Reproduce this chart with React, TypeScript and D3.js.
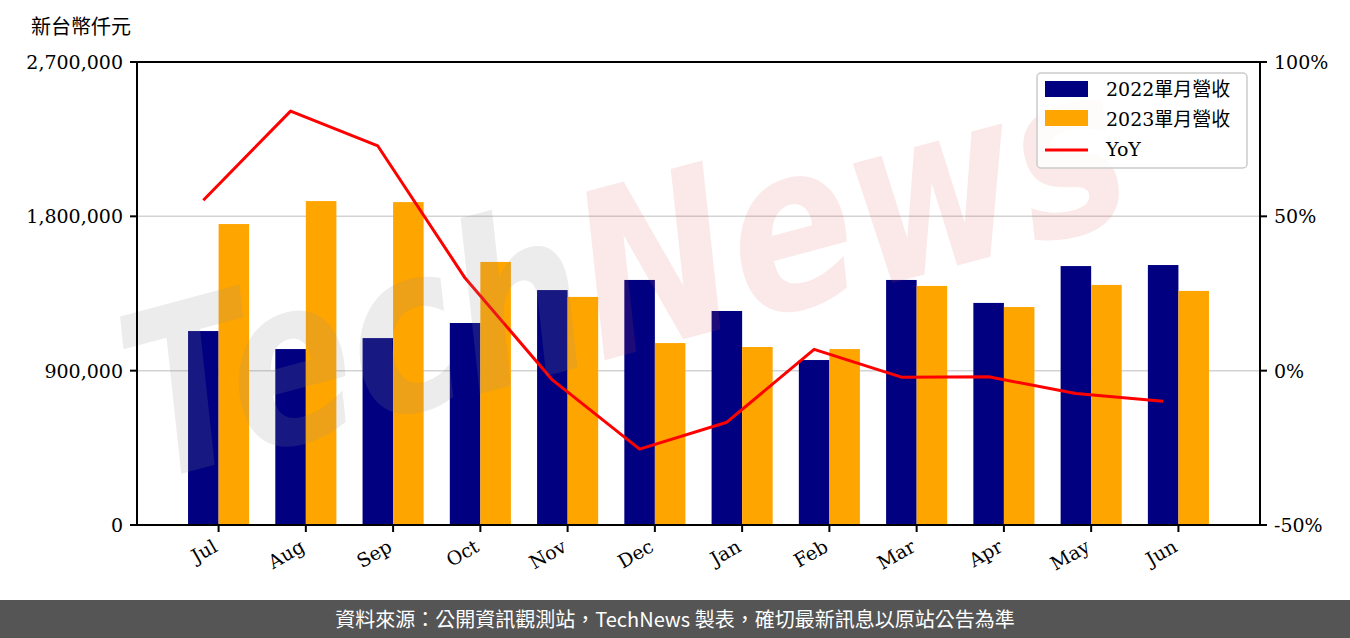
import React from "react";
import * as d3 from "d3";

const months = ["Jul", "Aug", "Sep", "Oct", "Nov", "Dec", "Jan", "Feb", "Mar", "Apr", "May", "Jun"];
const rev2022 = [1131000, 1026000, 1090000, 1178000, 1370000, 1429000, 1248000, 962000, 1429000, 1295000, 1510000, 1516000];
const rev2023 = [1755000, 1889000, 1883000, 1534000, 1330000, 1061000, 1038000, 1026000, 1394000, 1271000, 1400000, 1365000];
const yoy = [55.2, 84.1, 72.8, 30.0, -3.0, -25.4, -16.7, 6.9, -2.1, -2.0, -7.4, -9.9];
const leftTicks = [0, 900000, 1800000, 2700000];
const rightTicks = [-50, 0, 50, 100];
const legendLabels = ["2022單月營收", "2023單月營收", "YoY"];

const W = 1350, H = 638;
const L = 137, R = 1260, T = 62, B = 525;
const serif = "'DejaVu Serif', serif";
const cjk = "'Noto Sans CJK TC', 'Noto Sans CJK SC', sans-serif";

export default function App() {
  const x = d3.scaleLinear().domain([-0.935, 11.935]).range([L, R]);
  const y = d3.scaleLinear().domain([0, 2700000]).range([B, T]);
  const y2 = d3.scaleLinear().domain([-50, 100]).range([B, T]);
  const bw = 0.35;
  const line = d3.line<number>().x((_, i) => x(i - bw / 2)).y((d) => y2(d));
  const fmt = d3.format(",");

  return (
    <div style={{ position: "absolute", left: 0, top: 0 }}>
      <svg width={W} height={H} style={{ display: "block" }}>
        <rect x={0} y={0} width={W} height={H} fill="#fff" />
        {/* gridlines */}
        {leftTicks.filter((t) => t > 0 && t < 2700000).map((t) => (
          <line key={t} x1={L} x2={R} y1={y(t)} y2={y(t)} stroke="#d3d3d3" strokeWidth={1.5} />
        ))}
        {/* bars */}
        {months.map((m, i) => (
          <g key={m}>
            <rect x={x(i - bw)} y={y(rev2022[i])} width={x(bw) - x(0)} height={B - y(rev2022[i])} fill="#000080" />
            <rect x={x(i)} y={y(rev2023[i])} width={x(bw) - x(0)} height={B - y(rev2023[i])} fill="#FFA500" />
          </g>
        ))}
        {/* yoy line */}
        <path d={line(yoy) || ""} fill="none" stroke="#ff0000" strokeWidth={3} strokeLinejoin="round" />
        {/* watermark */}
        <g transform="translate(150,482) rotate(-15) scale(0.8,1)" style={{ pointerEvents: "none" }}>
          <text x={0} y={0} fontFamily="'DejaVu Sans', sans-serif" fontWeight="bold" fontStyle="italic" fontSize={230}>
            <tspan fill="#909090" fillOpacity={0.17}>Tech</tspan>
            <tspan fill="#dd5555" fillOpacity={0.13}>News</tspan>
          </text>
        </g>
        {/* spines */}
        <rect x={L} y={T} width={R - L} height={B - T} fill="none" stroke="#000" strokeWidth={2} />
        {/* left ticks */}
        {leftTicks.map((t) => (
          <g key={t}>
            <line x1={L - 7} x2={L} y1={y(t)} y2={y(t)} stroke="#000" strokeWidth={2} />
            <text x={L - 14} y={y(t)} dy="0.36em" textAnchor="end" fontFamily={serif} fontSize={19} fill="#000">{fmt(t)}</text>
          </g>
        ))}
        {/* right ticks */}
        {rightTicks.map((t) => (
          <g key={t}>
            <line x1={R} x2={R + 7} y1={y2(t)} y2={y2(t)} stroke="#000" strokeWidth={2} />
            <text x={R + 14} y={y2(t)} dy="0.36em" textAnchor="start" fontFamily={serif} fontSize={19} fill="#000">{t}%</text>
          </g>
        ))}
        {/* bottom ticks */}
        {months.map((m, i) => (
          <g key={m}>
            <line x1={x(i)} x2={x(i)} y1={B} y2={B + 7} stroke="#000" strokeWidth={2} />
            <text transform={`translate(${x(i) - 7},${B + 13}) rotate(-30)`} textAnchor="end" dy="0.75em" fontFamily={serif} fontSize={19} fill="#000">{m}</text>
          </g>
        ))}
        {/* unit label */}
        <text x={31} y={34} fontFamily={cjk} fontSize={20} fill="#000">新台幣仟元</text>
        {/* legend */}
        <g transform="translate(1037,73)">
          <rect x={0} y={0} width={210} height={95} rx={4} fill="#fff" fillOpacity={0.8} stroke="#cccccc" strokeWidth={1.5} />
          <rect x={8} y={8} width={43} height={16} fill="#000080" />
          <rect x={8} y={37} width={43} height={16} fill="#FFA500" />
          <line x1={8} x2={51} y1={77} y2={77} stroke="#ff0000" strokeWidth={3} />
          {legendLabels.map((s, i) => (
            <text key={s} x={69} y={16 + i * 30} dy="0.36em" fontFamily={i < 2 ? `'DejaVu Serif', ${cjk}` : serif} fontSize={19} fill="#000">{s}</text>
          ))}
        </g>
        {/* footer */}
        <rect x={0} y={600} width={W} height={38} fill="#555555" />
        <text x={675} y={620} dy="0.36em" textAnchor="middle" fontFamily={cjk} fontSize={20} fill="#fff">資料來源：公開資訊觀測站，TechNews 製表，確切最新訊息以原站公告為準</text>
      </svg>
    </div>
  );
}
